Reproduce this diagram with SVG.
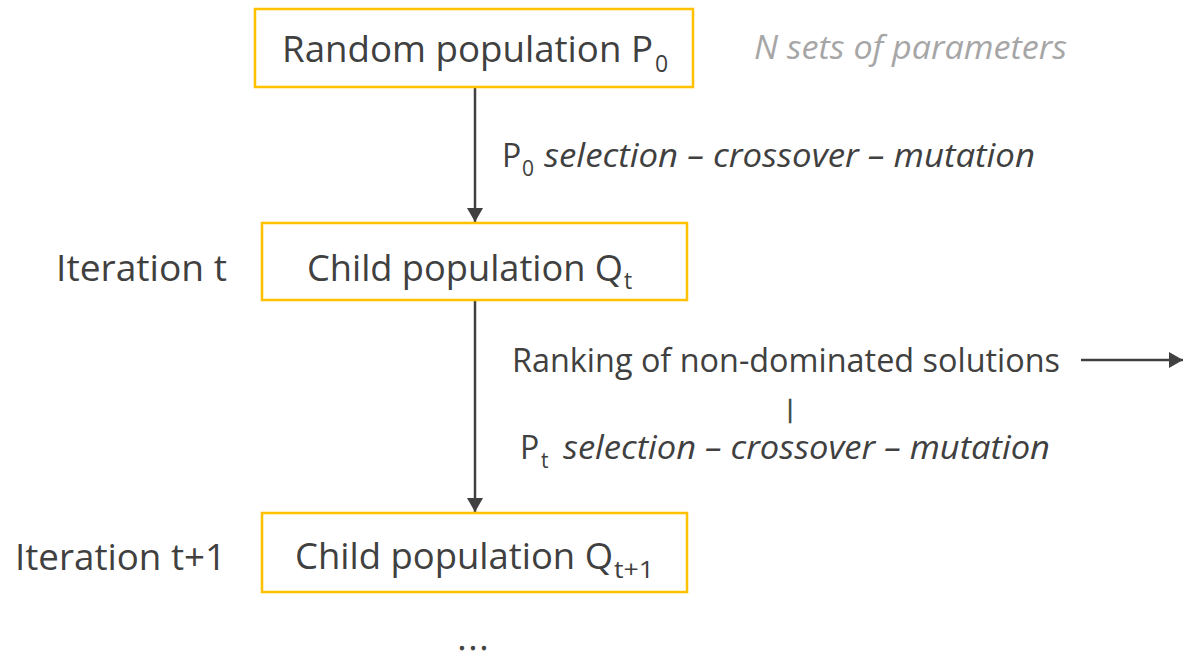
<svg xmlns="http://www.w3.org/2000/svg" width="1184" height="659" viewBox="0 0 1184 659">
<style>
.box{fill:#FFFFFF;stroke:#FFC000;stroke-width:2.5}
.t{font-family:"Open Sans","Liberation Sans",sans-serif;fill:#404040}
.main{font-size:36px}
.sec{font-size:32px}
.sub{font-size:23px}
.subs{font-size:21px}
.it{font-style:italic}
.gray{fill:#A6A6A6}
.conn{stroke:#404040;stroke-width:2.5;fill:none}
</style>
<defs>
<marker id="ah" markerUnits="userSpaceOnUse" markerWidth="14" markerHeight="16" refX="14" refY="8" orient="auto">
<path d="M0,0 L14,8 L0,16 Z" fill="#404040"/>
</marker>
</defs>
<rect width="1184" height="659" fill="#FFFFFF"/>
<g id="connectors">
<line class="conn" x1="475" y1="88" x2="475" y2="222" marker-end="url(#ah)"/>
<line class="conn" x1="475" y1="301" x2="475" y2="512" marker-end="url(#ah)"/>
<line class="conn" x1="1081" y1="360" x2="1183" y2="360" marker-end="url(#ah)"/>
</g>
<g id="node-random">
<rect class="box" x="255" y="9" width="438" height="78"/>
<text class="t main" x="282" y="62"><tspan textLength="371" lengthAdjust="spacingAndGlyphs">Random population P</tspan><tspan class="sub" x="655" dy="10">0</tspan></text>
</g>
<g id="note-nsets">
<text class="t sec it gray" x="754" y="59" textLength="313" lengthAdjust="spacingAndGlyphs">N sets of parameters</text>
</g>
<g id="label-p0">
<text class="t sec" x="502" y="167">P<tspan class="subs" x="522" dy="9">0</tspan><tspan class="it" x="544" dy="-9" textLength="491" lengthAdjust="spacingAndGlyphs">selection – crossover – mutation</tspan></text>
</g>
<g id="node-child-t">
<rect class="box" x="262" y="223" width="425" height="77"/>
<text class="t main" x="307" y="281"><tspan textLength="316" lengthAdjust="spacingAndGlyphs">Child population Q</tspan><tspan class="sub" x="624" dy="8">t</tspan></text>
</g>
<g id="label-iter-t">
<text class="t main" x="56" y="281" textLength="171" lengthAdjust="spacingAndGlyphs">Iteration t</text>
</g>
<g id="label-ranking">
<text class="t sec" x="512" y="372" textLength="548" lengthAdjust="spacingAndGlyphs">Ranking of non-dominated solutions</text>
<text class="t" x="790" y="417" font-size="23" text-anchor="middle" stroke="#404040" stroke-width="0.7">|</text>
<text class="t sec" x="520" y="459">P<tspan class="subs" x="541" dy="9">t</tspan><tspan class="it" x="563" dy="-9" textLength="487" lengthAdjust="spacingAndGlyphs">selection – crossover – mutation</tspan></text>
</g>
<g id="node-child-t1">
<rect class="box" x="262" y="513" width="425" height="79"/>
<text class="t main" x="295" y="569"><tspan textLength="318" lengthAdjust="spacingAndGlyphs">Child population Q</tspan><tspan class="sub" x="614" dy="9" textLength="40" lengthAdjust="spacingAndGlyphs">t+1</tspan></text>
</g>
<g id="label-iter-t1">
<text class="t main" x="15" y="570" textLength="211" lengthAdjust="spacingAndGlyphs">Iteration t+1</text>
</g>
<g id="ellipsis">
<text class="t" x="458" y="650" font-size="30" textLength="30" lengthAdjust="spacing" stroke="#404040" stroke-width="0.8">...</text>
</g>
</svg>
